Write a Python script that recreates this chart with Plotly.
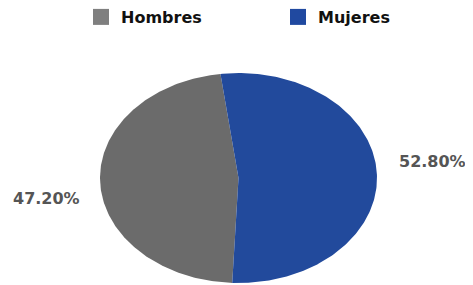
import numpy as np
import plotly.graph_objects as go

labels = ["Hombres", "Mujeres"]
values = [47.20, 52.80]
colors = ["#6b6b6b", "#224a9c"]
legend_colors = ["#7f7f7f", "#2049a0"]

FONT = "DejaVu Sans"
W, H = 473, 285
OFF = 8  # page body margin offset
start_deg = 182.6  # clockwise from 12 o'clock, first slice start

fig = go.Figure()
total = sum(values)
a0 = start_deg
for lab, v, c in zip(labels, values, colors):
    span = v / total * 360.0
    th = np.radians(np.linspace(a0, a0 + span, 200))
    xs = np.concatenate([[0.0], np.sin(th), [0.0]])
    ys = np.concatenate([[0.0], np.cos(th), [0.0]])
    fig.add_trace(go.Scatter(x=xs, y=ys, fill="toself", fillcolor=c, mode="lines",
                             line=dict(width=0, color=c), showlegend=False, hoverinfo="skip"))
    a0 += span

for lab, c in zip(labels, legend_colors):
    fig.add_trace(go.Scatter(x=[None], y=[None], mode="markers", name=lab,
                             marker=dict(symbol="square", size=22, color=c)))

def px(x):
    return (x - OFF) / W

def py(y):
    return 1 - (y - OFF) / H

fig.add_annotation(x=px(46), y=py(198), xref="paper", yref="paper",
                   xanchor="center", yanchor="middle",
                   text=f"<b>{values[0]:.2f}%</b>", showarrow=False,
                   font=dict(family=FONT, size=16, color="#555555"))
fig.add_annotation(x=px(432), y=py(161), xref="paper", yref="paper",
                   xanchor="center", yanchor="middle",
                   text=f"<b>{values[1]:.2f}%</b>", showarrow=False,
                   font=dict(family=FONT, size=16, color="#555555"))

fig.update_layout(
    width=W, height=H,
    margin=dict(l=0, r=0, t=0, b=0, autoexpand=False),
    paper_bgcolor="white", plot_bgcolor="white",
    xaxis=dict(domain=[px(100), px(377)], range=[-1, 1], visible=False, fixedrange=True),
    yaxis=dict(domain=[py(283), py(73)], range=[-1, 1], visible=False, fixedrange=True),
    legend=dict(orientation="h", x=px(81), y=py(0), xanchor="left", yanchor="top",
                entrywidth=152, entrywidthmode="pixels",
                font=dict(family=FONT, size=16, color="#111111", weight="bold"),
                itemsizing="trace"),
)

fig.write_html("out.html")
